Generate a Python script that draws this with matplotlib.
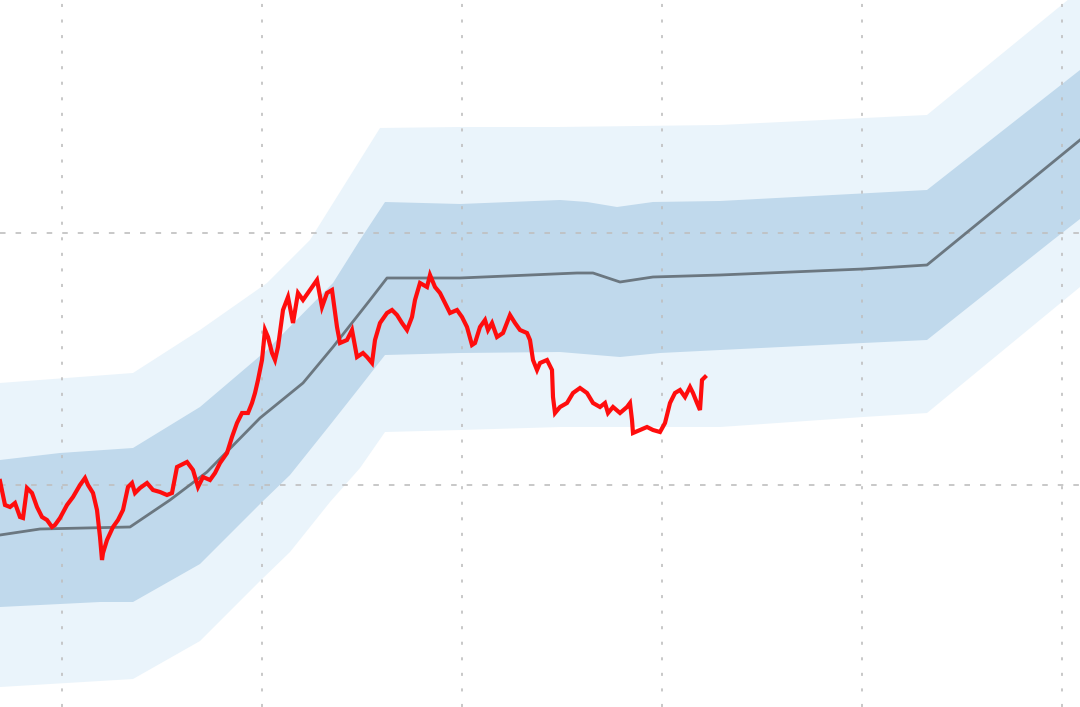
import matplotlib
matplotlib.use("Agg")
import matplotlib.pyplot as plt
import numpy as np

red_x = [0, 5, 10, 15, 20, 23, 27, 32, 37, 42,
         47, 52, 55, 60, 67, 73, 80, 85, 88, 93,
         97, 100, 102, 103, 107, 113, 118, 123, 128, 132,
         135, 140, 147, 153, 160, 167, 172, 177, 187, 193,
         198, 203, 210, 215, 220, 227, 232, 237, 242, 248,
         252, 255, 258, 262, 265, 268, 272, 275, 278, 283,
         288, 293, 298, 303, 310, 317, 322, 327, 332, 337,
         340, 347, 352, 357, 363, 367, 372, 375, 380, 387,
         392, 397, 402, 407, 412, 415, 420, 427, 430, 435,
         440, 445, 450, 457, 462, 467, 472, 475, 480, 485,
         488, 492, 497, 503, 510, 515, 520, 527, 530, 533,
         537, 540, 547, 552, 553, 555, 560, 567, 573, 580,
         587, 593, 600, 605, 608, 613, 620, 627, 630, 632,
         633, 640, 647, 653, 660, 665, 670, 675, 680, 685,
         690, 693, 697, 700, 702, 705]
red_y = [226, 202, 200, 204, 190, 189, 219, 214, 200, 190,
         187, 180, 182, 189, 202, 210, 222, 229, 222, 214,
         197, 170, 147, 154, 167, 180, 187, 197, 220, 224,
         214, 219, 224, 217, 215, 212, 214, 240, 245, 237,
         220, 230, 227, 234, 244, 254, 270, 284, 294, 294,
         304, 314, 327, 347, 377, 370, 354, 347, 360, 397,
         410, 384, 414, 407, 417, 427, 400, 414, 417, 380,
         364, 367, 377, 350, 354, 350, 344, 367, 384, 394,
         397, 392, 384, 377, 390, 407, 424, 420, 432, 420,
         414, 404, 394, 397, 390, 380, 362, 364, 380, 387,
         377, 384, 370, 374, 392, 384, 377, 374, 367, 347,
         337, 344, 347, 337, 310, 294, 300, 304, 314, 319,
         314, 304, 300, 304, 294, 300, 294, 300, 304, 287,
         274, 277, 280, 277, 275, 284, 304, 314, 317, 310,
         320, 314, 304, 297, 327, 330]

# central path (gray)
mid_x = [0, 40, 130, 170, 207, 260, 303, 333, 370, 387, 460, 577, 593,
         620, 653, 720, 863, 927, 1080]
mid_y = [172, 178, 180, 207, 235, 289, 324, 360, 407, 429, 429, 434, 434,
         425, 430, 432, 438, 442, 567]

# inner band
inner_hi_x = [0, 60, 133, 200, 267, 333, 360, 385, 460, 560, 587, 617, 653,
              720, 927, 1080]
inner_hi_y = [247, 254, 259, 300, 357, 424, 467, 505, 503, 507, 505, 500, 505,
              506, 517, 637]
inner_lo_x = [0, 100, 133, 200, 260, 290, 330, 360, 385, 460, 560, 620, 660,
              720, 863, 927, 1053, 1080]
inner_lo_y = [100, 105, 105, 143, 203, 232, 282, 320, 352, 354, 355, 350, 354,
              357, 364, 367, 467, 488]

# outer band
outer_hi_x = [0, 133, 200, 267, 310, 360, 380, 460, 560, 720, 927, 1080]
outer_hi_y = [324, 334, 377, 424, 467, 547, 579, 580, 580, 582, 592, 717]
outer_lo_x = [0, 133, 200, 260, 290, 330, 360, 385, 460, 560, 720, 863, 927, 1080]
outer_lo_y = [20, 28, 66, 126, 155, 205, 239, 275, 277, 280, 280, 290, 294, 420]

grid_x = [62, 262, 462, 662, 862, 1062]
grid_y = [222, 474]

plt.rcParams['lines.scale_dashes'] = False

fig = plt.figure(figsize=(10.8, 7.07), dpi=100)
ax = fig.add_axes([0, 0, 1, 1])

# bands drawn as closed polygons: upper edge forward, lower edge back
ax.fill(outer_hi_x + outer_lo_x[::-1], outer_hi_y + outer_lo_y[::-1],
        color="#eaf4fb", lw=0)
ax.fill(inner_hi_x + inner_lo_x[::-1], inner_hi_y + inner_lo_y[::-1],
        color="#c0d9ec", lw=0)

ax.plot(mid_x, mid_y, color="#6b7780", lw=2.0, solid_joinstyle="round")
ax.plot(red_x, red_y, color="#ff0d0d", lw=3.0, solid_joinstyle="miter")

ax.set_xlim(0, 1080)
ax.set_ylim(0, 707)
ax.set_xticks(grid_x)
ax.set_yticks(grid_y)
ax.set_axisbelow("line")
ax.grid(axis="x", color="#bfbfbf", lw=1.2, linestyle=(0, (2.2, 9.0)))
ax.grid(axis="y", color="#bfbfbf", lw=1.2, linestyle=(0, (4.0, 7.2)))
ax.tick_params(length=0, labelbottom=False, labelleft=False)
for s in ax.spines.values():
    s.set_visible(False)

fig.savefig("out.png", dpi=100)
